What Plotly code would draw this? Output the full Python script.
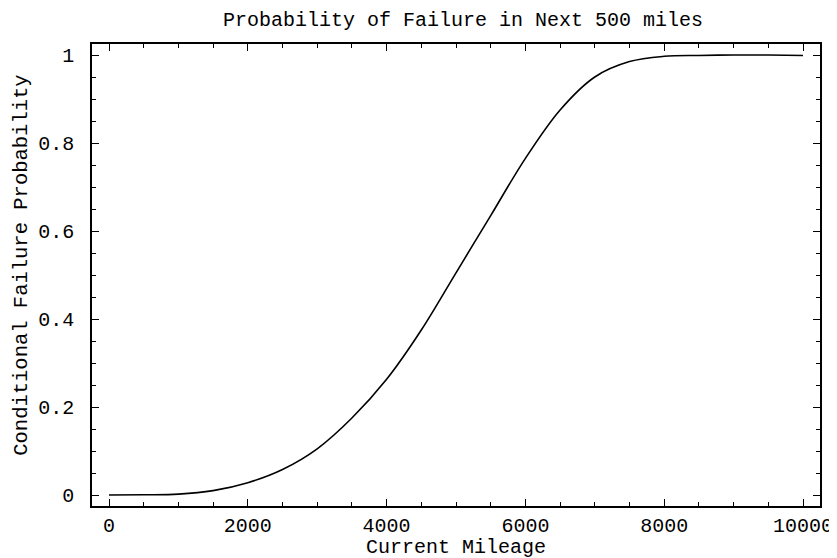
import plotly.graph_objects as go

mileage = [0, 500, 1000, 1500, 2000, 2500, 3000, 3500, 4000, 4500, 5000,
           5500, 6000, 6500, 7000, 7500, 8000, 8500, 9000, 9500, 10000]
prob = [0.0, 0.0005, 0.002, 0.01, 0.028, 0.058, 0.105, 0.175, 0.263, 0.375, 0.505,
        0.635, 0.765, 0.875, 0.95, 0.985, 0.997, 0.999, 1.0, 1.0, 0.999]

x_ticks = [0, 2000, 4000, 6000, 8000, 10000]
y_ticks = [0, 0.2, 0.4, 0.6, 0.8, 1]
y_labels = ["0", "0.2", "0.4", "0.6", "0.8", "1"]

FONT = "Liberation Mono, Courier New, monospace"
W, H = 837, 558
L, R, T, B = 84, 14, 36, 60

fig = go.Figure()
fig.add_trace(go.Scatter(x=mileage, y=prob, mode="lines",
                         line=dict(color="black", width=1.6, shape="spline"),
                         showlegend=False, hoverinfo="skip"))

axis_common = dict(
    showgrid=False, zeroline=False, showline=True, linecolor="black", linewidth=1.5,
    mirror="allticks", ticks="inside", ticklen=7, tickwidth=1.2, tickcolor="black",
    tickfont=dict(family=FONT, size=20, color="black"),
)

fig.update_layout(
    width=W, height=H,
    margin=dict(l=L, r=R, t=T, b=B),
    paper_bgcolor="white", plot_bgcolor="white",
    xaxis=dict(range=[-245, 10245], tickvals=x_ticks, ticktext=[str(v) for v in x_ticks],
               minor=dict(dtick=500, tick0=0, ticks="inside", ticklen=4, tickcolor="black", tickwidth=1),
               **axis_common),
    yaxis=dict(range=[-0.025, 1.025], tickvals=y_ticks, ticktext=[t + " " for t in y_labels],
               minor=dict(dtick=0.05, tick0=0, ticks="inside", ticklen=4, tickcolor="black", tickwidth=1),
               **axis_common),
    annotations=[
        dict(text="Probability of Failure in Next 500 miles", xref="paper", yref="paper",
             x=0.51, y=1, yshift=24, xanchor="center", yanchor="middle", showarrow=False,
             font=dict(family=FONT, size=20, color="black")),
        dict(text="Current Mileage", xref="paper", yref="paper",
             x=0.5, y=0, yshift=-41, xanchor="center",
             yanchor="middle", showarrow=False,
             font=dict(family=FONT, size=20, color="black")),
        dict(text="Conditional Failure Probability", xref="paper", yref="paper",
             x=0, xshift=-(L - 14), y=0.52, xanchor="center", yanchor="middle",
             textangle=-90, showarrow=False,
             font=dict(family=FONT, size=20.5, color="black")),
    ],
)

fig.write_html("out.html")
